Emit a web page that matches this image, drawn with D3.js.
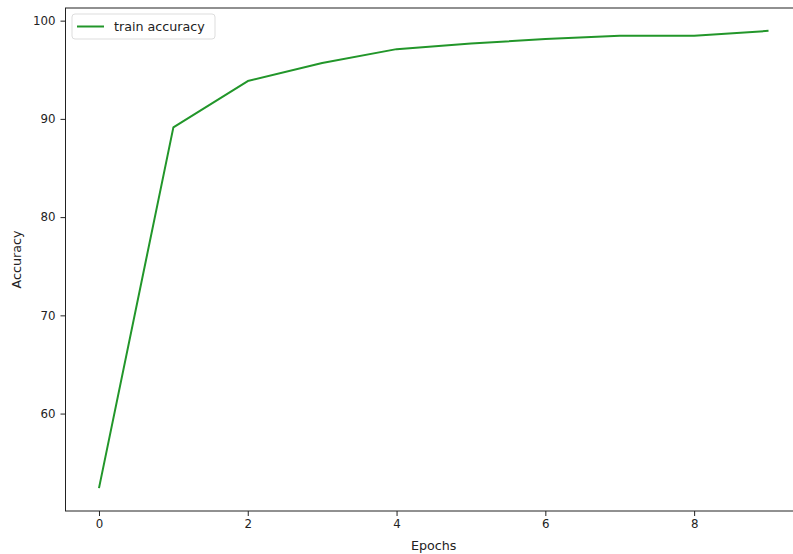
<!DOCTYPE html>
<html lang="en">
<head>
    <meta charset="UTF-8">
    <title>Train accuracy</title>
    <script src="https://d3js.org/d3.v7.min.js"></script>
    <style>
        body { margin: 0; background: #fff; }
        text { font-family: "DejaVu Sans", sans-serif; fill: #222; }
    </style>
</head>
<body>
    <script>
        var epochs = [0, 1, 2, 3, 4, 5, 6, 7, 8, 9];
        var trainAccuracy = [52.41, 89.14, 93.85, 95.68, 97.10, 97.68, 98.12, 98.45, 98.47, 98.96];
        var xTicks = [0, 2, 4, 6, 8];
        var yTicks = [60, 70, 80, 90, 100];
        var seriesName = "train accuracy";

        var w = 793;
        var h = 554;
        var padding = { top: 8, right: -9, bottom: 43, left: 65.5 };
        var labelSize = "12.7px";

        var svg = d3.select("body")
            .append("svg")
            .attr("width", w)
            .attr("height", h);

        // matplotlib-style 5% margins around the data
        var xPad = (d3.max(epochs) - d3.min(epochs)) * 0.05;
        var yPad = (d3.max(trainAccuracy) - d3.min(trainAccuracy)) * 0.05;

        var x = d3.scaleLinear()
            .domain([d3.min(epochs) - xPad, d3.max(epochs) + xPad])
            .range([padding.left, w - padding.right]);
        var y = d3.scaleLinear()
            .domain([d3.min(trainAccuracy) - yPad, d3.max(trainAccuracy) + yPad])
            .range([h - padding.bottom, padding.top]);

        var xAxis = svg.append("g")
            .attr("transform", "translate(0," + (h - padding.bottom) + ")")
            .call(d3.axisBottom(x).tickValues(xTicks).tickSize(5).tickPadding(4));
        var yAxis = svg.append("g")
            .attr("transform", "translate(" + padding.left + ",0)")
            .call(d3.axisLeft(y).tickValues(yTicks).tickSize(5).tickPadding(5));

        [xAxis, yAxis].forEach(function(a) {
            a.selectAll("text").attr("font-size", "11.8px").style("font-family", "DejaVu Sans, sans-serif").attr("fill", "#222");
            a.selectAll("line").attr("stroke", "#222").attr("stroke-width", 1);
            a.select(".domain").remove();
        });

        // frame
        svg.append("rect")
            .attr("x", padding.left)
            .attr("y", padding.top)
            .attr("width", w - padding.right - padding.left)
            .attr("height", h - padding.bottom - padding.top)
            .attr("fill", "none")
            .attr("stroke", "#222")
            .attr("stroke-width", 1);

        var line = d3.line()
            .x(function(d, i) { return x(epochs[i]); })
            .y(function(d) { return y(d); });

        svg.append("path")
            .datum(trainAccuracy)
            .attr("d", line)
            .attr("fill", "none")
            .attr("stroke", "#22962a")
            .attr("stroke-width", 2)
            .attr("stroke-linejoin", "round");

        // axis labels
        svg.append("text")
            .attr("x", (padding.left + w - padding.right) / 2)
            .attr("y", 550)
            .attr("text-anchor", "middle")
            .attr("font-size", labelSize)
            .text("Epochs");
        svg.append("text")
            .attr("transform", "translate(21," + ((padding.top + h - padding.bottom) / 2) + ") rotate(-90)")
            .attr("text-anchor", "middle")
            .attr("font-size", labelSize)
            .text("Accuracy");

        // legend
        var legend = svg.append("g").attr("transform", "translate(72,14)");
        legend.append("rect")
            .attr("width", 143)
            .attr("height", 25)
            .attr("rx", 3)
            .attr("fill", "#fff")
            .attr("stroke", "#ddd")
            .attr("stroke-width", 1);
        legend.append("line")
            .attr("x1", 5).attr("x2", 32)
            .attr("y1", 12.5).attr("y2", 12.5)
            .attr("stroke", "#22962a")
            .attr("stroke-width", 2);
        legend.append("text")
            .attr("x", 42)
            .attr("y", 17)
            .attr("font-size", labelSize)
            .text(seriesName);
    </script>
</body>
</html>
